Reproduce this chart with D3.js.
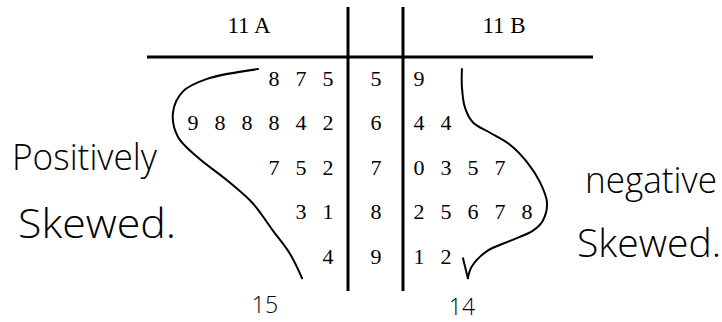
<!DOCTYPE html>
<html><head><meta charset="utf-8">
<script src="https://cdn.jsdelivr.net/npm/d3@7"></script>
<style>body{margin:0;background:#fff}</style>
</head><body>
<script>
// Back-to-back stem-and-leaf plot: class 11A (left) vs 11B (right)
const stems = [5, 6, 7, 8, 9];
const leavesA = [[8, 7, 5], [9, 8, 8, 8, 4, 2], [7, 5, 2], [3, 1], [4]];
const leavesB = [[9], [4, 4], [0, 3, 5, 7], [2, 5, 6, 7, 8], [1, 2]];
const headers = ["11 A", "11 B"];
const notesA = ["Positively", "Skewed."];
const notesB = ["negative", "Skewed."];

// Hand-drawn outline around each side, in (leaf slot, row) units
const shapeA = [[2.59,-0.2],[4.48,0.02],[5.37,0.3],[5.74,0.77],[5.56,1.32],[4.85,1.77],[3.74,2.3],[2.78,2.82],[2.04,3.43],[1.41,3.95],[0.96,4.5]];
const shapeB = [[1.59,-0.2],[1.59,0.2],[1.70,0.66],[2.0,1.0],[2.63,1.23],[3.37,1.5],[4.0,1.89],[4.48,2.34],[4.74,2.8],[4.59,3.2],[4.22,3.43],[3.37,3.66],[2.52,3.89],[1.96,4.23],[1.81,4.5]];
const tickB = [[1.63,4.05],[1.81,4.5]];

const W = 722, H = 322;
const svg = d3.select("body").append("svg").attr("width", W).attr("height", H)
  .style("background", "#fff");

const row = d3.scaleLinear().domain([0, stems.length - 1]).range([78, 256]);
const slotA = d3.scaleLinear().domain([0, 1]).range([328, 301]);
const slotB = d3.scaleLinear().domain([0, 1]).range([419, 446]);
const stemX = 376;

const serif = "'Liberation Serif', 'Times New Roman', serif";
const hand = "'Open Sans', 'Lato', sans-serif";

// Frame lines
svg.append("line").attr("x1", 147).attr("x2", 593).attr("y1", 57).attr("y2", 57)
  .attr("stroke", "#000").attr("stroke-width", 3);
[348, 403].forEach(x => svg.append("line").attr("x1", x).attr("x2", x)
  .attr("y1", 7).attr("y2", 291).attr("stroke", "#000").attr("stroke-width", 3));

// Headers
svg.selectAll("text.hdr").data(headers).join("text").attr("class", "hdr")
  .attr("x", (d, i) => i === 0 ? 249 : 504).attr("y", 33)
  .attr("text-anchor", "middle").attr("font-family", serif).attr("font-size", 23)
  .text(d => d);

// Stems
svg.selectAll("text.stem").data(stems).join("text").attr("class", "stem")
  .attr("x", stemX).attr("y", (d, i) => row(i)).attr("dy", "0.35em")
  .attr("text-anchor", "middle").attr("font-family", serif).attr("font-size", 22)
  .text(d => d);

// Leaves, 11A reads outward to the left
const cellsA = leavesA.flatMap((arr, r) => arr.map((v, j) => ({v, r, s: arr.length - 1 - j})));
const cellsB = leavesB.flatMap((arr, r) => arr.map((v, j) => ({v, r, s: j})));
svg.selectAll("text.la").data(cellsA).join("text").attr("class", "la")
  .attr("x", d => slotA(d.s)).attr("y", d => row(d.r)).attr("dy", "0.35em")
  .attr("text-anchor", "middle").attr("font-family", serif).attr("font-size", 22)
  .text(d => d.v);
svg.selectAll("text.lb").data(cellsB).join("text").attr("class", "lb")
  .attr("x", d => slotB(d.s)).attr("y", d => row(d.r)).attr("dy", "0.35em")
  .attr("text-anchor", "middle").attr("font-family", serif).attr("font-size", 22)
  .text(d => d.v);

// Outline curves
const lineA = d3.line().x(d => slotA(d[0])).y(d => row(d[1])).curve(d3.curveCatmullRom);
const lineB = d3.line().x(d => slotB(d[0])).y(d => row(d[1])).curve(d3.curveCatmullRom);
const pen = {stroke: "#000", "stroke-width": 2, fill: "none", "stroke-linecap": "round"};
function draw(path) { const p = svg.append("path").attr("d", path); Object.entries(pen).forEach(([k, v]) => p.attr(k, v)); return p; }
draw(lineA(shapeA));
draw(lineB(shapeB));
draw(lineB(tickB));

// Notes
function note(txt, x, y, size, len) {
  svg.append("text").attr("x", x).attr("y", y).attr("font-family", hand)
    .attr("font-weight", 300).attr("font-size", size)
    .attr("textLength", len).attr("lengthAdjust", "spacingAndGlyphs").text(txt);
}
note(notesA[0], 12, 170, 36, 145);
note(notesA[1], 18, 238, 40, 158);
note(notesB[0], 585, 193, 36, 132);
note(notesB[1], 577, 257, 38, 144);

// Totals under each side
const totals = [d3.sum(leavesA, d => d.length), d3.sum(leavesB, d => d.length)];
svg.selectAll("text.tot").data(totals).join("text").attr("class", "tot")
  .attr("x", (d, i) => i === 0 ? 265 : 462).attr("y", (d, i) => i === 0 ? 313 : 315)
  .attr("text-anchor", "middle").attr("font-family", hand).attr("font-weight", 300)
  .attr("font-size", 23).text(d => d);
</script>
</body></html>
